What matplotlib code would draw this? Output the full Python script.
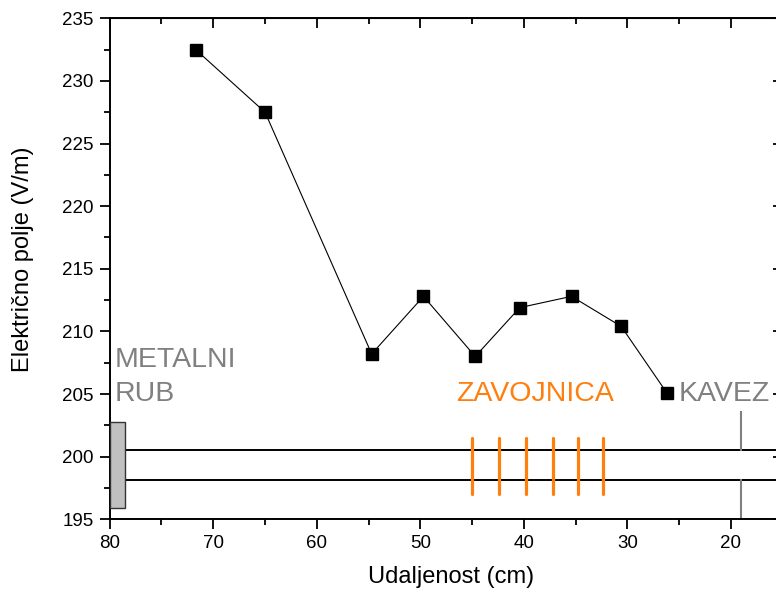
import matplotlib
matplotlib.use("Agg")
import matplotlib.pyplot as plt
from matplotlib.patches import Rectangle

plt.rcParams["font.family"] = ["Liberation Sans", "DejaVu Sans"]

# measured field vs distance
distance = [71.7, 65.0, 54.7, 49.7, 44.7, 40.4, 35.4, 30.6, 26.2]
field = [232.5, 227.5, 208.2, 212.8, 208.0, 211.9, 212.8, 210.4, 205.1]

# sketch of the setup
coil_turns = [45.0, 42.4, 39.8, 37.2, 34.8, 32.4]
coil_y = (197.0, 201.5)
tube_y = [200.55, 198.15]
edge_x = (80.0, 78.5)
edge_y = (195.9, 202.8)
cage_x = 19.0
cage_top = 203.6

x_ticks = [80, 70, 60, 50, 40, 30, 20]
x_minor = [75, 65, 55, 45, 35, 25, 15]
y_ticks = [195, 200, 205, 210, 215, 220, 225, 230, 235]
y_minor = [197.5, 202.5, 207.5, 212.5, 217.5, 222.5, 227.5, 232.5]

fig = plt.figure(figsize=(7.76, 5.96), dpi=100)
ax = fig.add_axes([0.1414, 0.1287, 0.8673, 0.8406])

ax.plot(distance, field, color="black", lw=0.8, marker="s", ms=8,
        mfc="black", mec="black", zorder=5)

# metal edge
ax.add_patch(Rectangle((edge_x[1], edge_y[0]), edge_x[0] - edge_x[1],
                       edge_y[1] - edge_y[0], facecolor="#c0c0c0",
                       edgecolor="#333333", lw=1, zorder=3))

# tube walls
for yy in tube_y:
    ax.plot([edge_x[1], 15], [yy, yy], color="black", lw=1.4, zorder=2)

# coil turns
for xc in coil_turns:
    ax.plot([xc, xc], coil_y, color="#ff7f0e", lw=2.3,
            solid_capstyle="round", zorder=4)

# cage
ax.plot([cage_x, cage_x], [cage_top, tube_y[0]], color="#808080", lw=1.5)
ax.plot([cage_x, cage_x], [tube_y[1], 195], color="#808080", lw=1.5)

ax.text(79.5, 207.15, "METALNI", color="#808080", fontsize=20.5,
        ha="left", va="baseline")
ax.text(79.5, 204.45, "RUB", color="#808080", fontsize=20.5,
        ha="left", va="baseline")
ax.text(46.5, 204.45, "ZAVOJNICA", color="#ff7f0e", fontsize=20.5,
        ha="left", va="baseline")
ax.text(25.1, 204.45, "KAVEZ", color="#808080", fontsize=20.5,
        ha="left", va="baseline")

ax.set_xlim(80, 15)
ax.set_ylim(195, 235)
ax.set_xticks(x_ticks)
ax.set_yticks(y_ticks)
ax.set_xticks(x_minor, minor=True)
ax.set_yticks(y_minor, minor=True)

ax.tick_params(which="both", labelsize=13.5, width=1.3, direction="out",
               top=False, right=False, pad=4.5)
ax.tick_params(which="major", length=7)
ax.tick_params(which="minor", length=4)

# mirrored inward ticks on top and right
top = ax.secondary_xaxis("top")
top.set_xticks(x_ticks)
top.set_xticks(x_minor, minor=True)
top.tick_params(which="both", direction="in", labeltop=False, width=1.3)
top.tick_params(which="major", length=7)
top.tick_params(which="minor", length=4)
right = ax.secondary_yaxis("right")
right.set_yticks(y_ticks)
right.set_yticks(y_minor, minor=True)
right.tick_params(which="both", direction="in", labelright=False, width=1.3)
right.tick_params(which="major", length=7)
right.tick_params(which="minor", length=4)

for sp in ax.spines.values():
    sp.set_linewidth(1.4)

ax.set_xlabel("Udaljenost (cm)", fontsize=17)
ax.set_ylabel("Električno polje (V/m)", fontsize=17)
ax.xaxis.set_label_coords(0.507, -0.093)
ax.yaxis.set_label_coords(-0.1125, 0.52)

fig.savefig("out.png", dpi=100)
